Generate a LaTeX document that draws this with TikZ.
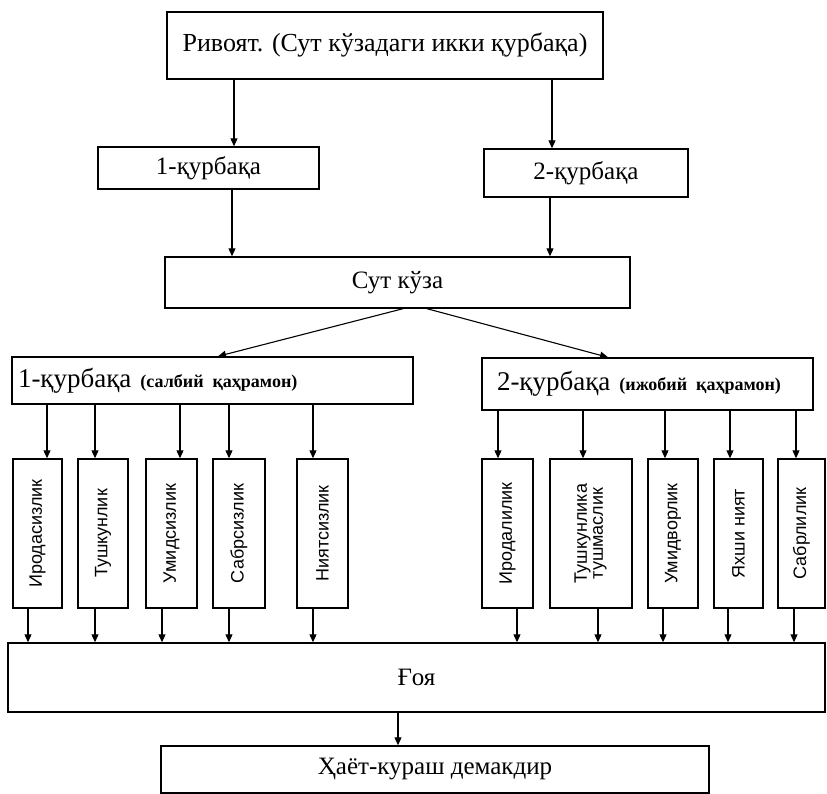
\documentclass[tikz,border=0pt]{standalone}
\usepackage{fontspec}
\usepackage{graphicx}
\setmainfont{Liberation Serif}
\newfontfamily\traitfont{Liberation Sans}
\usetikzlibrary{arrows.meta,calc,positioning}
\newcommand{\roletext}[1]{{\bfseries\fontsize{18}{20}\selectfont #1}}
\tikzset{
  box/.style   = {draw, line width=1.4pt, fill=white, inner sep=0pt,
                  font=\fontsize{25}{29}\selectfont},
  head/.style  = {box, align=left, font=\fontsize{27}{31}\selectfont},
  trait/.style = {box, minimum height=149pt, font=\traitfont\fontsize{18}{19}\selectfont},
  arr/.style   = {line width=1.1pt, -{Triangle[length=8pt,width=7pt]}},
}

\begin{document}
\begin{tikzpicture}[x=1pt,y=-1pt]
  \useasboundingbox (0,0) rectangle (827,794);
  \node[box, minimum width=436pt, minimum height=67pt, font=\fontsize{26}{30}\selectfont] (story) at (385,45.5)
    {Ривоят. (Сут кўзадаги икки қурбақа)};
  \node[box, minimum width=221pt, minimum height=42pt] (frogA) at (208.5,168) {1-қурбақа};
  \node[box, minimum width=204pt, minimum height=48pt] (frogB) at (586,173) {2-қурбақа};
  \node[box, minimum width=465pt, minimum height=51pt] (jug) at (397.5,282.5) {Сут кўза};
  \node[head, minimum height=47pt, inner xsep=6pt, text width=389pt] (neg) at (212.5,380.5)
    {1-қурбақа \roletext{(салбий қаҳрамон)}};
  \node[head, minimum height=52pt, inner xsep=15pt, text width=301pt] (pos) at (647.5,384)
    {2-қурбақа \roletext{(ижобий қаҳрамон)}};
  % traits of the two frogs
  \foreach \n/\x/\w/\t in {L1/37.5/49pt/Иродасизлик, L2/103/50pt/Тушкунлик,
      L3/171.5/51pt/Умидсизлик, L4/239/52pt/Сабрсизлик, L5/322.5/51pt/Ниятсизлик,
      R1/507.5/51pt/Иродалилик,
      R2/591/82pt/{\begin{tabular}{@{}c@{}}Тушкунлика\\[-3pt]тушмаслик\end{tabular}},
      R3/673/50pt/Умидворлик, R4/738.5/49pt/Яхши ният, R5/801.5/47pt/Сабрлилик}
    {\node[trait, minimum width=\w] (\n) at (\x,533.5) {\rotatebox{90}{\t}};}
  \node[box, minimum width=817pt, minimum height=69pt] (idea) at (416.5,677.5) {Ғоя};
  \node[box, minimum width=548pt, minimum height=47pt] (life) at (435,769.5) {Ҳаёт-кураш демакдир};

  \draw[arr] (story.south -| 234,0) -- (frogA.north -| 234,0);
  \draw[arr] (story.south -| 552,0) -- (frogB.north -| 552,0);
  \draw[arr] (frogA.south -| 232,0) -- (jug.north -| 232,0);
  \draw[arr] (frogB.south -| 550,0) -- (jug.north -| 550,0);
  \draw[arr] (jug.south -| 403,0) -- (neg.north -| 218,0);
  \draw[arr] (jug.south -| 427,0) -- (pos.north -| 608,0);
  \foreach \n/\a/\b in {L1/47/28, L2/95/95, L3/180/162, L4/229/229, L5/313/313}
    {\draw[arr] (neg.south -| \a,0) -- (\n.north -| \a,0);
     \draw[arr] (\n.south -| \b,0) -- (idea.north -| \b,0);}
  \foreach \n/\a/\b in {R1/498/517, R2/583/598, R3/665/663, R4/730/728, R5/796/794}
    {\draw[arr] (pos.south -| \a,0) -- (\n.north -| \a,0);
     \draw[arr] (\n.south -| \b,0) -- (idea.north -| \b,0);}
  \draw[arr] (idea.south -| 398,0) -- (life.north -| 398,0);
\end{tikzpicture}
\end{document}
